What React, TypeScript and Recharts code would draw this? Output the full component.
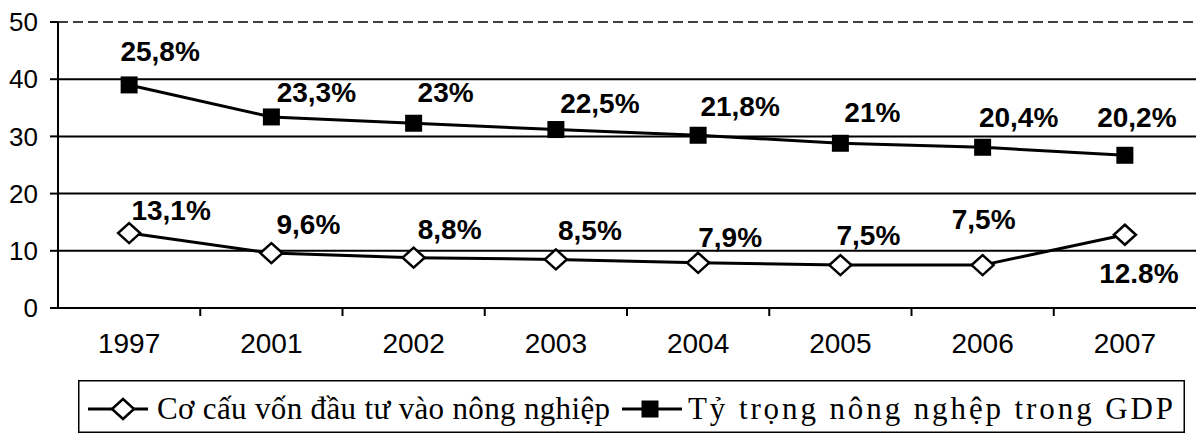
import React from 'react';
import {
  LineChart,
  Line,
  XAxis,
  YAxis,
  CartesianGrid,
  ReferenceLine,
  LabelList,
  Legend
} from 'recharts';

const years = ['1997', '2001', '2002', '2003', '2004', '2005', '2006', '2007'];
const gdpShare = [39, 33.4, 32.3, 31.2, 30.2, 28.8, 28.1, 26.7];
const gdpLabels = ['25,8%', '23,3%', '23%', '22,5%', '21,8%', '21%', '20,4%', '20,2%'];
const investShare = [13.1, 9.6, 8.8, 8.5, 7.9, 7.5, 7.5, 12.8];
const investLabels = ['13,1%', '9,6%', '8,8%', '8,5%', '7,9%', '7,5%', '7,5%', '12.8%'];
const yTicks = [0, 10, 20, 30, 40, 50];
const gridValues = [10, 20, 30, 40];

const investName = 'Cơ cấu vốn đầu tư vào nông nghiệp';
const gdpName = 'Tỷ trọng nông nghệp trong GDP';

const data = years.map((year, i) => ({
  pos: i,
  year,
  gdp: gdpShare[i],
  invest: investShare[i],
  gdpLabel: gdpLabels[i],
  investLabel: investLabels[i]
}));

// category centres get the year, the gaps between them get a tick mark
const xTicks = years.flatMap((_, i) => (i === 0 ? [i] : [i - 0.5, i]));

// label nudges (px) as placed by hand in the original
const gdpNudge = [[31, -34], [45, -25], [32, -31], [44, -27], [42, -29], [32, -31], [36, -30], [12, -38]];
const investNudge = [[42, -23], [37, -29], [36, -29], [34, -29], [32, -26], [28, -30], [1, -46], [14, 38]];

const SANS = '"Liberation Sans", Arial, sans-serif';
const SERIF = '"Liberation Serif", "Times New Roman", serif';

const XTick = (props: any) => {
  const { x, y, payload } = props;
  const v = payload.value;
  if (!Number.isInteger(v)) {
    return <line x1={x} x2={x} y1={y} y2={y + 8} stroke="#000" strokeWidth={2} />;
  }
  return (
    <text x={x} y={y + 25} dy="0.71em" textAnchor="middle" fontSize={28} fontFamily={SANS} fill="#000">
      {years[v]}
    </text>
  );
};

const SquareDot = (props: any) => {
  const { cx, cy } = props;
  return <rect x={cx - 8.5} y={cy - 8.5} width={17} height={17} fill="#000" />;
};

const DiamondDot = (props: any) => {
  const { cx, cy } = props;
  return (
    <polygon
      points={`${cx},${cy - 10} ${cx + 11},${cy} ${cx},${cy + 10} ${cx - 11},${cy}`}
      fill="#fff"
      stroke="#000"
      strokeWidth={2.5}
    />
  );
};

const makeLabel = (nudges: number[][]) => (props: any) => {
  const { index, value } = props;
  const x = props.viewBox?.x ?? props.x;
  const y = props.viewBox?.y ?? props.y;
  const [dx, dy] = nudges[index] || [30, -30];
  return (
    <text
      x={x + dx}
      y={y + dy}
      dy="0.36em"
      textAnchor="middle"
      fontSize={28}
      fontWeight="bold"
      fontFamily={SANS}
      fill="#000"
    >
      {value}
    </text>
  );
};

// legend drawn as one svg so the two entries keep the original spacing
const LegendBox = () => (
  <svg width={1107} height={53} style={{ display: 'block' }}>
    <rect x={0.75} y={0.75} width={1105.5} height={51.5} fill="#fff" stroke="#000" strokeWidth={1.5} />
    <line x1={10} x2={70} y1={29} y2={29} stroke="#000" strokeWidth={3} />
    <polygon points="45,19 56,29 45,39 34,29" fill="#fff" stroke="#000" strokeWidth={2.5} />
    <text x={79} y={29} dy="0.33em" fontFamily={SERIF} fontSize={31} fill="#000" textLength={453} lengthAdjust="spacing">
      {investName}
    </text>
    <line x1={544} x2={604} y1={29} y2={29} stroke="#000" strokeWidth={3} />
    <rect x={563.5} y={20.5} width={17} height={17} fill="#000" />
    <text x={610} y={29} dy="0.33em" fontFamily={SERIF} fontSize={31} fill="#000" textLength={485} lengthAdjust="spacing">
      {gdpName}
    </text>
  </svg>
);

export default function App() {
  return (
    <div style={{ position: 'absolute', left: 0, top: 0, background: '#fff' }}>
      <LineChart width={1202} height={434} data={data} margin={{ top: 22, right: 6, left: 0, bottom: 0 }}>
        <CartesianGrid vertical={false} horizontalValues={gridValues} stroke="#000" strokeWidth={2} />
        <XAxis
          dataKey="pos"
          type="number"
          domain={[-0.5, years.length - 0.5]}
          ticks={xTicks}
          interval={0}
          tick={<XTick />}
          tickLine={false}
          tickSize={0}
          tickMargin={0}
          height={126}
          axisLine={{ stroke: '#000', strokeWidth: 2 }}
        />
        <YAxis
          domain={[0, 50]}
          ticks={yTicks}
          interval={0}
          width={58}
          tickSize={8}
          tickMargin={12}
          tick={{ fill: '#000', fontSize: 26, fontFamily: SANS }}
          tickLine={{ stroke: '#000', strokeWidth: 2 }}
          axisLine={{ stroke: '#000', strokeWidth: 2 }}
        />
        <YAxis
          yAxisId="r"
          orientation="right"
          domain={[0, 50]}
          width={0}
          tick={false}
          tickLine={false}
          axisLine={{ stroke: '#000', strokeWidth: 1, strokeDasharray: '6 4' }}
        />
        <ReferenceLine y={50} stroke="#000" strokeWidth={1.5} strokeDasharray="10 5" />
        <Line
          type="linear"
          dataKey="invest"
          name={investName}
          stroke="#000"
          strokeWidth={3}
          dot={<DiamondDot />}
          activeDot={false}
          isAnimationActive={false}
        >
          <LabelList dataKey="investLabel" content={makeLabel(investNudge)} />
        </Line>
        <Line
          type="linear"
          dataKey="gdp"
          name={gdpName}
          stroke="#000"
          strokeWidth={3}
          dot={<SquareDot />}
          activeDot={false}
          isAnimationActive={false}
        >
          <LabelList dataKey="gdpLabel" content={makeLabel(gdpNudge)} />
        </Line>
        <Legend
          layout="horizontal"
          verticalAlign="middle"
          align="center"
          content={<LegendBox />}
          wrapperStyle={{ left: 78, top: 380, width: 1107, height: 53 }}
        />
      </LineChart>
    </div>
  );
}
